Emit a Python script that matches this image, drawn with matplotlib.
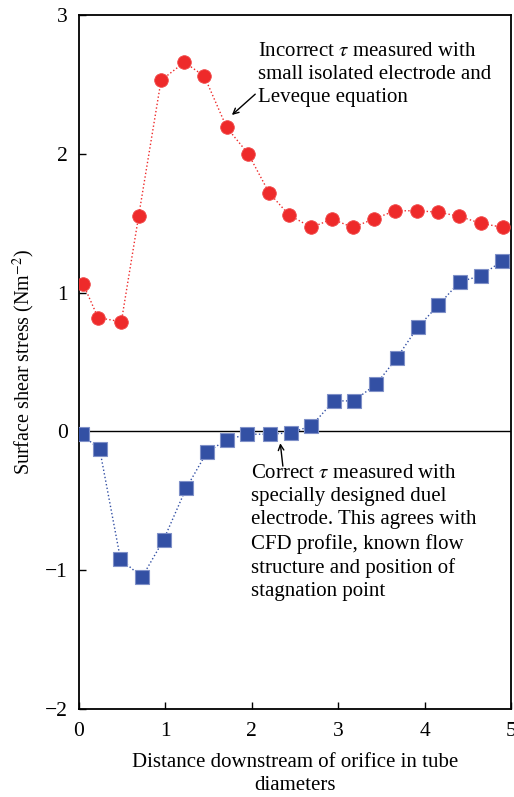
import numpy as np
import matplotlib
matplotlib.use("Agg")
import matplotlib.pyplot as plt

plt.rcParams['font.family'] = ['Liberation Serif', 'DejaVu Serif']
plt.rcParams['mathtext.fontset'] = 'stix'

# incorrect tau (small isolated electrode, Leveque)
x_red = [0.05, 0.22, 0.49, 0.69, 0.95, 1.22, 1.45, 1.71, 1.96, 2.20, 2.43,
         2.69, 2.93, 3.17, 3.41, 3.66, 3.91, 4.16, 4.40, 4.65, 4.91]
y_red = [1.06, 0.82, 0.79, 1.55, 2.53, 2.66, 2.56, 2.19, 2.00, 1.72, 1.56,
         1.47, 1.53, 1.47, 1.53, 1.59, 1.59, 1.58, 1.55, 1.50, 1.47]

# correct tau (dual electrode)
x_blue = [0.03, 0.24, 0.48, 0.73, 0.98, 1.24, 1.48, 1.71, 1.95, 2.21, 2.45,
          2.69, 2.95, 3.18, 3.44, 3.68, 3.92, 4.16, 4.41, 4.65, 4.90]
y_blue = [-0.02, -0.13, -0.92, -1.05, -0.78, -0.41, -0.15, -0.06, -0.02, -0.02, -0.01,
          0.04, 0.22, 0.22, 0.34, 0.53, 0.75, 0.91, 1.08, 1.12, 1.23]

fig = plt.figure(figsize=(5.14, 7.97), dpi=100)
ax = fig.add_axes([0.1537, 0.1104, 0.8403, 0.8707])

ax.axhline(0, color='black', lw=1.0, zorder=1)

ax.plot(x_red, y_red, ls=':', color='#EE2A2A', lw=1.0, marker='o', ms=9.8,
        mfc='#EE2A2A', mec='#F04848', mew=0.6, zorder=3)
ax.plot(x_blue, y_blue, ls=':', color='#3350A4', lw=1.0, marker='s', ms=9.8,
        mfc='#3350A4', mec='#7F90C8', mew=0.8, zorder=3)

ax.set_xlim(0, 5)
ax.set_ylim(-2, 3)
ax.set_xticks([0, 1, 2, 3, 4, 5])
ax.set_yticks([-2, -1, 0, 1, 2, 3])
ax.set_yticklabels(['\u22122', '\u22121', '0', '1', '2', '3'])
ax.tick_params(direction='in', length=5, width=1.0, labelsize=15.5)
ax.tick_params(axis='x', pad=9)
ax.tick_params(axis='y', pad=8)
for s in ax.spines.values():
    s.set_linewidth(1.3)

ax.set_xlabel('Distance downstream of orifice in tube\ndiameters', fontsize=15,
              labelpad=9, linespacing=1.3)
ax.set_ylabel('Surface shear stress (Nm$^{-2}$)', fontsize=14.5, labelpad=6)

ax.text(2.07, 2.57, 'Incorrect $\\tau$ measured with\nsmall isolated electrode and\nLeveque equation',
        fontsize=15, ha='left', va='center', linespacing=1.3)
ax.annotate('', xy=(1.77, 2.28), xytext=(2.04, 2.43),
            arrowprops=dict(arrowstyle='->', color='black', lw=1.0,
                            shrinkA=0, shrinkB=0))

ax.text(1.99, -0.235, 'Correct $\\tau$ measured with\nspecially designed duel\nelectrode. This agrees with\n'
        'CFD profile, known flow\nstructure and position of\nstagnation point',
        fontsize=15, ha='left', va='top', linespacing=1.3)
ax.annotate('', xy=(2.33, -0.085), xytext=(2.36, -0.25),
            arrowprops=dict(arrowstyle='->', color='black', lw=1.0,
                            shrinkA=0, shrinkB=0))

fig.savefig('out.png', dpi=100)
